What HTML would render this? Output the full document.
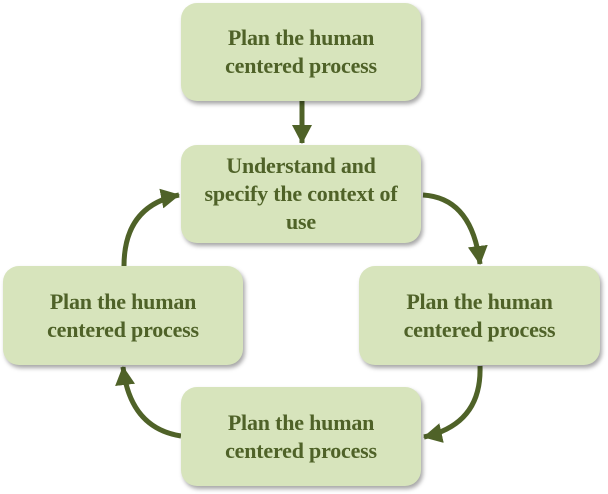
<!DOCTYPE html>
<html><head><meta charset="utf-8"><style>
body{margin:0;width:608px;height:494px;background:#fff;position:relative;overflow:hidden;font-family:"Liberation Serif",serif}
.b{position:absolute;width:240px;height:98px;background:#d7e4bc;border-radius:16px;box-shadow:2px 3px 4px rgba(0,0,0,.35);display:flex;align-items:center;justify-content:center;text-align:center;color:#4f6228;font-weight:bold;font-size:22px;line-height:28px;letter-spacing:-0.2px}
svg{position:absolute;left:0;top:0}
</style></head><body>
<svg width="608" height="494">
<defs><marker id="a" markerWidth="5" markerHeight="5" refX="3.6" refY="2.5" orient="auto" markerUnits="strokeWidth"><path d="M0,0.5 L3.8,2.5 L0,4.5 z" fill="#4f6228"/></marker></defs>
<g fill="none" stroke="#4f6228" stroke-width="5">
<path d="M302,100 L302,143" marker-end="url(#a)"/>
<path d="M423,195 Q472,198 480,264" marker-end="url(#a)"/>
<path d="M480,366 Q482,424 424,437" marker-end="url(#a)"/>
<path d="M181,436 Q130,428 123,367" marker-end="url(#a)"/>
<path d="M124,266 Q124,206 179,195" marker-end="url(#a)"/>
</g></svg>
<div class="b" style="left:181px;top:3px">Plan the human<br>centered process</div>
<div class="b" style="left:181px;top:145px">Understand and<br>specify the context of<br>use</div>
<div class="b" style="left:3px;top:266px;height:99px">Plan the human<br>centered process</div>
<div class="b" style="left:359px;top:266px;width:241px;height:99px">Plan the human<br>centered process</div>
<div class="b" style="left:181px;top:387px;height:99px">Plan the human<br>centered process</div>
</body></html>
